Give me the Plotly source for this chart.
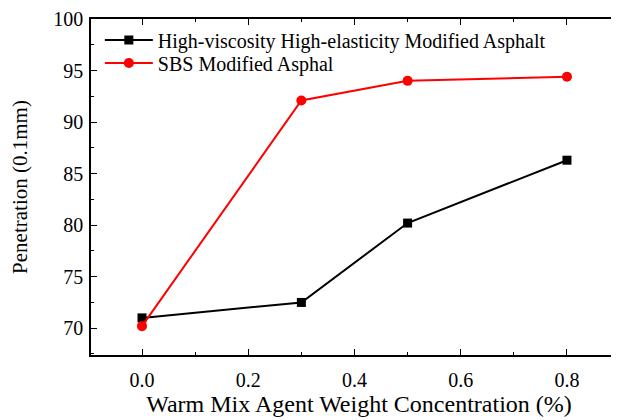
import plotly.graph_objects as go

concentration = [0.0, 0.3, 0.5, 0.8]
hvhe_penetration = [71.0, 72.5, 80.2, 86.3]
sbs_penetration = [70.2, 92.1, 94.0, 94.4]
series_names = ["High-viscosity High-elasticity Modified Asphalt", "SBS Modified Asphal"]

SERIF = "Liberation Serif, Times New Roman, serif"

fig = go.Figure()
fig.add_trace(go.Scatter(x=concentration, y=hvhe_penetration, mode="lines+markers",
                         name=series_names[0], legend="legend",
                         line=dict(color="black", width=2),
                         marker=dict(symbol="square", size=9, color="black")))
fig.add_trace(go.Scatter(x=concentration, y=sbs_penetration, mode="lines+markers",
                         name=series_names[1], legend="legend2",
                         line=dict(color="#ff0000", width=2),
                         marker=dict(symbol="circle", size=10, color="#ff0000")))

axis_common = dict(showline=True, linecolor="black", linewidth=1.5,
                   ticks="inside", ticklen=6, tickwidth=1.2, tickcolor="black",
                   showgrid=False, zeroline=False, automargin=False,
                   tickfont=dict(family=SERIF, size=20, color="black"))

fig.update_xaxes(range=[-0.096, 0.913], tickvals=[0.0, 0.2, 0.4, 0.6, 0.8],
                 ticktext=["0.0", "0.2", "0.4", "0.6", "0.8"],
                 mirror="allticks", ticklabelstandoff=6,
                 minor=dict(ticks="inside", ticklen=3, tickcolor="black", dtick=0.1, tick0=0),
                 title=dict(text="Warm Mix Agent Weight Concentration (%)",
                            font=dict(family=SERIF, size=24, color="black"),
                            standoff=0),
                 **axis_common)
fig.update_yaxes(range=[67.4, 100], tickvals=[70, 75, 80, 85, 90, 95, 100],
                 mirror=False, ticklabelstandoff=2,
                 minor=dict(ticks="inside", ticklen=3, tickcolor="black", dtick=2.5, tick0=70),
                 title=dict(text="Penetration (0.1mm)",
                            font=dict(family=SERIF, size=21, color="black"),
                            standoff=20),
                 **axis_common)

legend_common = dict(xanchor="left", yanchor="middle", bgcolor="rgba(0,0,0,0)",
                     font=dict(family=SERIF, size=20, color="black"),
                     itemwidth=48)

fig.update_layout(width=619, height=420,
                  margin=dict(l=83, r=0, t=11, b=73, autoexpand=False),
                  plot_bgcolor="white", paper_bgcolor="white",
                  font=dict(family=SERIF, color="black"),
                  legend=dict(x=0.0165, y=0.9375, **legend_common),
                  legend2=dict(x=0.0165, y=0.869, **legend_common),
                  showlegend=True)

fig.write_html("out.html")
